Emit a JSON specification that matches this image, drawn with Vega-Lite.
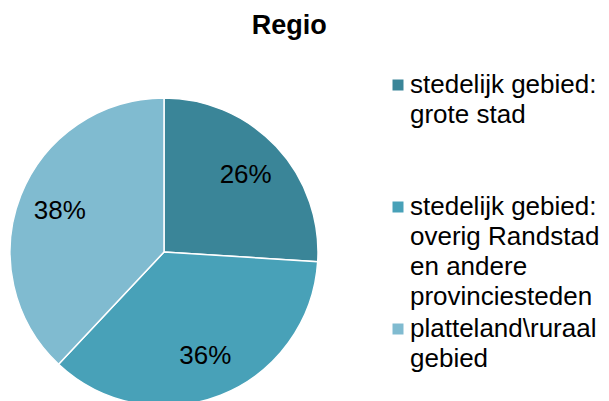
{
  "$schema": "https://vega.github.io/schema/vega-lite/v6.json",
  "padding": {"left": 7, "top": 11, "right": 0, "bottom": 0},
  "background": "white",
  "title": {"text": "Regio", "anchor": "middle", "dx": -14, "offset": 32, "fontSize": 27, "fontWeight": "bold", "font": "Liberation Sans", "color": "#000000"},
  "data": {"values": [
    {"nr": 1, "cat": "stedelijk gebied: grote stad", "legend": "stedelijk gebied:\ngrote stad", "share": 0.26},
    {"nr": 2, "cat": "stedelijk gebied: overig Randstad en andere provinciesteden", "legend": "stedelijk gebied:\noverig Randstad\nen andere\nprovinciesteden", "share": 0.36},
    {"nr": 3, "cat": "platteland\\ruraal gebied", "legend": "platteland\\ruraal\ngebied", "share": 0.38}
  ]},
  "spacing": 65,
  "config": {"view": {"stroke": null}, "font": "Liberation Sans"},
  "hconcat": [
    {
      "width": 308,
      "height": 308,
      "layer": [
        {
          "mark": {"type": "arc", "stroke": "white", "strokeWidth": 1.5},
          "encoding": {
            "theta": {"field": "share", "type": "quantitative", "stack": true},
            "order": {"field": "nr", "type": "ordinal"},
            "color": {"field": "cat", "type": "nominal", "legend": null,
              "scale": {"domain": ["stedelijk gebied: grote stad", "stedelijk gebied: overig Randstad en andere provinciesteden", "platteland\\ruraal gebied"],
                        "range": ["#3a8598", "#48a1b8", "#80bbd0"]}}
          }
        },
        {
          "mark": {"type": "text", "radius": 112, "fontSize": 26, "font": "Liberation Sans", "color": "#000000", "baseline": "middle", "align": "center"},
          "encoding": {
            "theta": {"field": "share", "type": "quantitative", "stack": true},
            "order": {"field": "nr", "type": "ordinal"},
            "text": {"field": "share", "type": "quantitative", "format": ".0%"}
          }
        }
      ]
    },
    {
      "width": 24,
      "height": 308,
      "layer": [
        {
          "mark": {"type": "point", "shape": "square", "filled": true, "size": 121, "opacity": 1, "yOffset": 13.5},
          "encoding": {
            "y": {"field": "cat", "type": "nominal", "axis": null,
              "scale": {"type": "point", "domain": ["stedelijk gebied: grote stad", "stedelijk gebied: overig Randstad en andere provinciesteden", "platteland\\ruraal gebied"], "range": [-26.5, 217.5], "padding": 0}},
            "color": {"field": "cat", "type": "nominal", "legend": null,
              "scale": {"domain": ["stedelijk gebied: grote stad", "stedelijk gebied: overig Randstad en andere provinciesteden", "platteland\\ruraal gebied"],
                        "range": ["#3a8598", "#48a1b8", "#80bbd0"]}}
          }
        },
        {
          "mark": {"type": "text", "align": "left", "baseline": "top", "lineBreak": "\n", "lineHeight": 30, "fontSize": 26, "font": "Liberation Sans", "xOffset": 12, "color": "#000000"},
          "encoding": {
            "y": {"field": "cat", "type": "nominal", "axis": null},
            "text": {"field": "legend", "type": "nominal"}
          }
        }
      ]
    }
  ]
}
